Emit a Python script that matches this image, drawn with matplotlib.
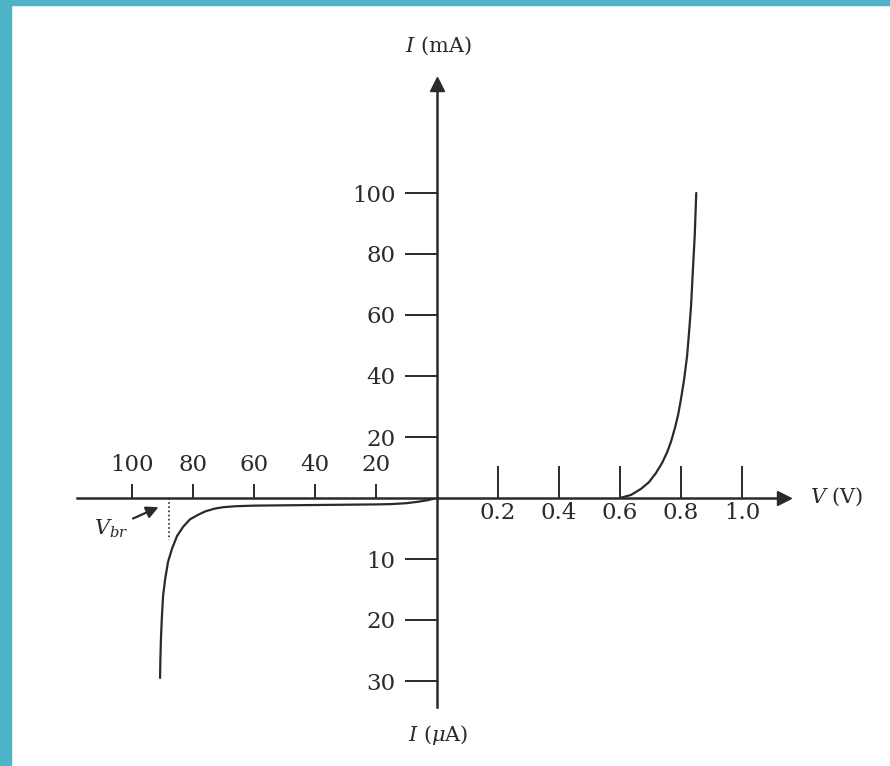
import numpy as np
import matplotlib
matplotlib.use("Agg")
import matplotlib.pyplot as plt
from matplotlib.patches import Rectangle

plt.rcParams["font.family"] = "DejaVu Serif"
plt.rcParams["mathtext.fontset"] = "dejavuserif"

# forward bias: V (V) vs I (mA)
fwd_v = [0.600, 0.636, 0.669, 0.695, 0.718, 0.738, 0.755, 0.768, 0.781, 0.791,
         0.800, 0.810, 0.820, 0.826, 0.833, 0.839, 0.845, 0.850]
fwd_i = [0.0, 1.0, 3.0, 5.2, 8.2, 11.5, 15.1, 18.7, 23.3, 27.5,
         32.5, 38.7, 46.6, 53.8, 63.0, 74.8, 85.9, 100.0]

# reverse bias: V (V) vs I (uA)
rev_v = [0, -1, -3, -6, -10, -15, -20, -30, -40, -50, -60, -66, -70, -73, -76,
         -78.5, -81, -83.2, -85.2, -86.8, -88.2, -89.1, -89.8, -90.2, -90.5, -90.7, -90.8]
rev_i = [0, -0.1, -0.35, -0.6, -0.85, -1.0, -1.05, -1.1, -1.15, -1.2, -1.25, -1.35, -1.5, -1.75, -2.2,
         -2.8, -3.5, -4.7, -6.2, -8.2, -10.5, -13.2, -16, -19.5, -23, -26.5, -29.5]
v_br = -87.9

fwd_xticks = [0.2, 0.4, 0.6, 0.8, 1.0]
fwd_yticks = [20, 40, 60, 80, 100]
rev_xticks = [-100, -80, -60, -40, -20]
rev_yticks = [-10, -20, -30]

W, H = 890, 766
ink = "#2a2a2a"
fs = 16.5

fig = plt.figure(figsize=(W / 100, H / 100), dpi=100)
fig.patches.append(Rectangle((0, 0), 11 / W, 1, transform=fig.transFigure, color="#4fb4c8", zorder=0))
fig.patches.append(Rectangle((0, 1 - 5 / H), 1, 5 / H, transform=fig.transFigure, color="#4fb4c8", zorder=0))

def px_axes(x0, x1, y0, y1):
    # pixel box -> figure axes
    return fig.add_axes([x0 / W, (H - y1) / H, (x1 - x0) / W, (y1 - y0) / H])

ox, oy, unit = 437, 498, 61.0

# forward quadrant
ax_f = px_axes(ox, 784, 84, oy)
ax_f.set_xlim(0, (784 - ox) / unit * 0.2)
ax_f.set_ylim(0, (oy - 84) / unit * 20)
ax_f.patch.set_alpha(0)
for s in ["top", "right"]:
    ax_f.spines[s].set_visible(False)
for s in ["left", "bottom"]:
    ax_f.spines[s].set_linewidth(1.8)
    ax_f.spines[s].set_color(ink)
ax_f.set_xticks(fwd_xticks, [f"{t:.1f}" for t in fwd_xticks])
ax_f.set_yticks(fwd_yticks, [str(t) for t in fwd_yticks])
ax_f.tick_params(axis="x", direction="in", length=23, width=1.4, pad=3, colors=ink, labelsize=fs)
ax_f.tick_params(axis="y", direction="out", length=23, width=1.4, pad=7, colors=ink, labelsize=fs)
ax_f.plot(fwd_v, fwd_i, color=ink, lw=1.6, solid_capstyle="round")
ax_f.plot(1, 0, ">", ms=10, color=ink, transform=ax_f.get_yaxis_transform(), clip_on=False)
ax_f.plot(0, 1, "^", ms=10, color=ink, transform=ax_f.get_xaxis_transform(), clip_on=False)

# reverse quadrant
ax_r = px_axes(77, ox, oy, 707)
ax_r.set_xlim(-(ox - 77) / unit * 20, 0)
ax_r.set_ylim(-(707 - oy) / unit * 10, 0)
ax_r.patch.set_alpha(0)
for s in ["bottom", "right"]:
    ax_r.spines[s].set_visible(False)
ax_r.spines["left"].set_position(("data", 0))
for s in ["left", "top"]:
    ax_r.spines[s].set_linewidth(1.8)
    ax_r.spines[s].set_color(ink)
ax_r.xaxis.tick_top()
ax_r.set_xticks(rev_xticks, [str(-t) for t in rev_xticks])
ax_r.set_yticks(rev_yticks, [str(-t) for t in rev_yticks])
ax_r.tick_params(axis="x", direction="out", length=10, width=1.4, pad=6, colors=ink, labelsize=fs)
ax_r.tick_params(axis="y", direction="out", length=23, width=1.4, pad=7, colors=ink, labelsize=fs)
ax_r.plot(rev_v, rev_i, color=ink, lw=1.6, solid_capstyle="round")
ax_r.plot([v_br, v_br], [0, -6.9], color=ink, lw=1.2, ls=(0, (1, 1.5)))
ax_r.annotate(r"$V_{br}$", xy=(-91.3, -1.5), xytext=(-107, -5.0), ha="center", va="center",
              fontsize=15, color=ink,
              arrowprops=dict(arrowstyle="-|>", color=ink, lw=1.6, mutation_scale=18, shrinkA=2, shrinkB=0))

# axis titles
fig.text(438 / W, 1 - 46 / H, r"$I$ (mA)", ha="center", va="center", fontsize=15, color=ink)
fig.text(438 / W, 1 - 735 / H, r"$I$ ($\mu$A)", ha="center", va="center", fontsize=15, color=ink)
fig.text(810 / W, 1 - 497 / H, r"$V$ (V)", ha="left", va="center", fontsize=15, color=ink)

fig.savefig("out.png", dpi=100, facecolor="white")
